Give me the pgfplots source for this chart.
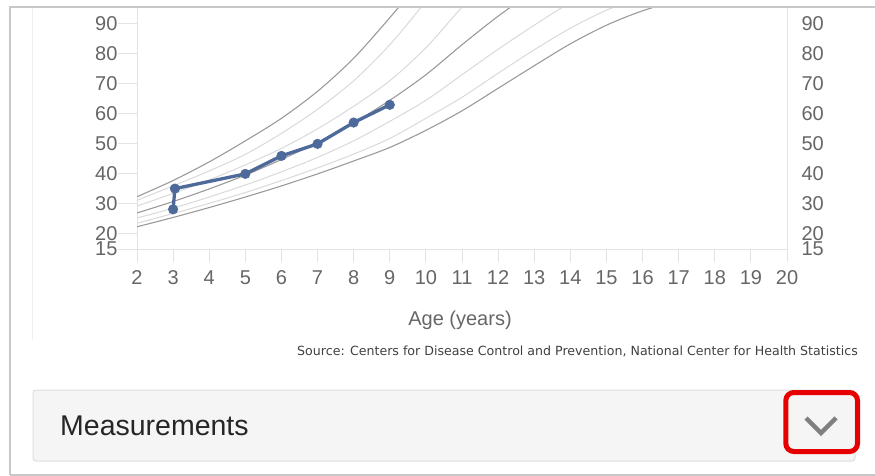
\documentclass[border=0pt]{standalone}
\usepackage{fontspec}
\setmainfont{Liberation Sans}
\newfontfamily\srcfont{DejaVu Sans}
\usepackage{pgfplots}
\usepackage{pgfplotstable}
\pgfplotsset{compat=1.18}

\definecolor{tickgray}{HTML}{666666}
\definecolor{axgray}{HTML}{E3E3E3}
\definecolor{pdark}{HTML}{9A9A9A}
\definecolor{plight}{HTML}{D9D9D9}
\definecolor{ptblue}{HTML}{4D6A9A}
\definecolor{cardgray}{HTML}{C8C8C8}
\definecolor{panelbg}{HTML}{F5F5F5}
\definecolor{panelbd}{HTML}{DDDDDD}
\definecolor{boxred}{HTML}{E60000}
\definecolor{chev}{HTML}{808080}
\definecolor{sepgray}{HTML}{EEEEEE}

\pgfplotstableread{
age p5 p10 p25 p50 p75 p90 p95
2 22.4 23.6 25.3 27.0 29.3 31.2 32.4
3 25.5 26.8 28.6 30.8 33.5 36.0 37.8
4 28.8 30.2 32.3 35.0 38.0 41.0 44.0
5 32.3 33.8 36.3 39.6 43.0 46.5 51.0
6 36.0 37.8 40.7 44.8 48.5 53.5 58.5
7 40.0 42.0 45.5 50.5 55.0 61.5 67.5
8 44.3 46.6 51.0 57.0 62.5 71.0 78.5
9 48.8 51.8 57.5 64.5 71.0 83.0 92.0
10 54.5 58.5 64.5 73.0 82.0 97.5 106.5
11 61.0 65.5 73.0 83.0 95.5 113 122
12 68.5 73.5 81.5 92.5 108 128 138
13 76.0 81.3 89.5 101 120 142 154
14 83.3 88.5 97.0 109 130 152 166
15 89.5 94.5 103 115 137 160 175
16 94.3 99.0 108 120 143 165 180
17 97.8 103 112 124 147 170 185
}\curves

\pgfplotstableread{
age w
3 28.2
3.05 35.1
5 40
6 46
7 50
8 57.1
9 63
}\patient

\begin{document}
\begin{tikzpicture}[x=1pt,y=1pt]
\useasboundingbox (0,0) rectangle (875,-476);
\draw[sepgray, line width=1pt] (32,-8) -- (32,-340);

\begin{axis}[
  at={(137pt,-249pt)}, anchor=south west,
  width=650pt, height=242.33pt, scale only axis,
  xmin=2, xmax=20, ymin=15, ymax=95.67,
  xtick={2,...,20}, ytick={15,20,30,40,50,60,70,80,90},
  axis line style={axgray, line width=1pt},
  tick align=outside,
  major tick length=13pt,
  xtick pos=bottom, ytick pos=left,
  xtick style={axgray, line width=1pt},
  ytick style={draw=none},
  ticklabel style={font=\fontsize{20}{20}\selectfont, text=tickgray},
  xticklabel style={yshift=-5pt},
  yticklabel style={xshift=-3pt},
  /pgf/number format/assume math mode=true,
  clip mode=individual,
]
\pgfplotsinvokeforeach{15,20,30,40,50,60,70,80,90}{
  \draw[axgray, line width=1pt] (axis cs:2,#1) -- ++(-19pt,0pt);
}
\addplot[pdark, line width=1.1pt, smooth] table[x=age,y=p5] {\curves};
\addplot[plight, line width=1pt, smooth] table[x=age,y=p10] {\curves};
\addplot[plight, line width=1pt, smooth] table[x=age,y=p25] {\curves};
\addplot[pdark, line width=1.1pt, smooth] table[x=age,y=p50] {\curves};
\addplot[plight, line width=1pt, smooth] table[x=age,y=p75] {\curves};
\addplot[plight, line width=1pt, smooth] table[x=age,y=p90] {\curves};
\addplot[pdark, line width=1.1pt, smooth] table[x=age,y=p95] {\curves};
\addplot[ptblue, line width=3.3pt, mark=*, mark size=4.8pt, mark options={fill=ptblue, draw=ptblue, line width=0.5pt}] table[x=age,y=w] {\patient};
\end{axis}

\begin{axis}[
  at={(137pt,-249pt)}, anchor=south west,
  width=650pt, height=242.33pt, scale only axis,
  xmin=2, xmax=20, ymin=15, ymax=95.67,
  hide x axis,
  axis y line*=right,
  axis line style={draw=none},
  ytick={15,20,30,40,50,60,70,80,90},
  major tick length=0pt,
  yticklabel style={font=\fontsize{20}{20}\selectfont, text=tickgray, anchor=west, xshift=11pt},
  /pgf/number format/assume math mode=true,
]
\addplot[draw=none] coordinates {(2,15)};
\end{axis}

% card border
\draw[cardgray, line width=1.5pt] (10,-475) -- (10,-7) -- (880,-7);
\draw[cardgray, line width=1.5pt] (10,-475) -- (880,-475);

\node[font=\fontsize{20}{20}\selectfont, text=tickgray] at (460,-320) {Age (years)};
\node[anchor=east, inner sep=0pt, font=\srcfont\fontsize{12.6}{12.6}\selectfont, text=black!75] at (858,-351) {Source: Centers for Disease Control and Prevention, National Center for Health Statistics};

% measurements panel
\draw[panelbd, fill=panelbg, rounded corners=3pt, line width=1pt] (33,-390) rectangle (855,-461);
\node[anchor=base west, font=\fontsize{28.5}{28.5}\selectfont, text=black!85, inner sep=0pt] at (60,-435) {Measurements};
\draw[boxred, line width=5pt, rounded corners=8pt] (785.8,-392.5) rectangle (857.5,-451.5);
\draw[chev, line width=4.5pt] (806,-418) -- (821,-433) -- (836,-418);
\end{tikzpicture}
\end{document}
